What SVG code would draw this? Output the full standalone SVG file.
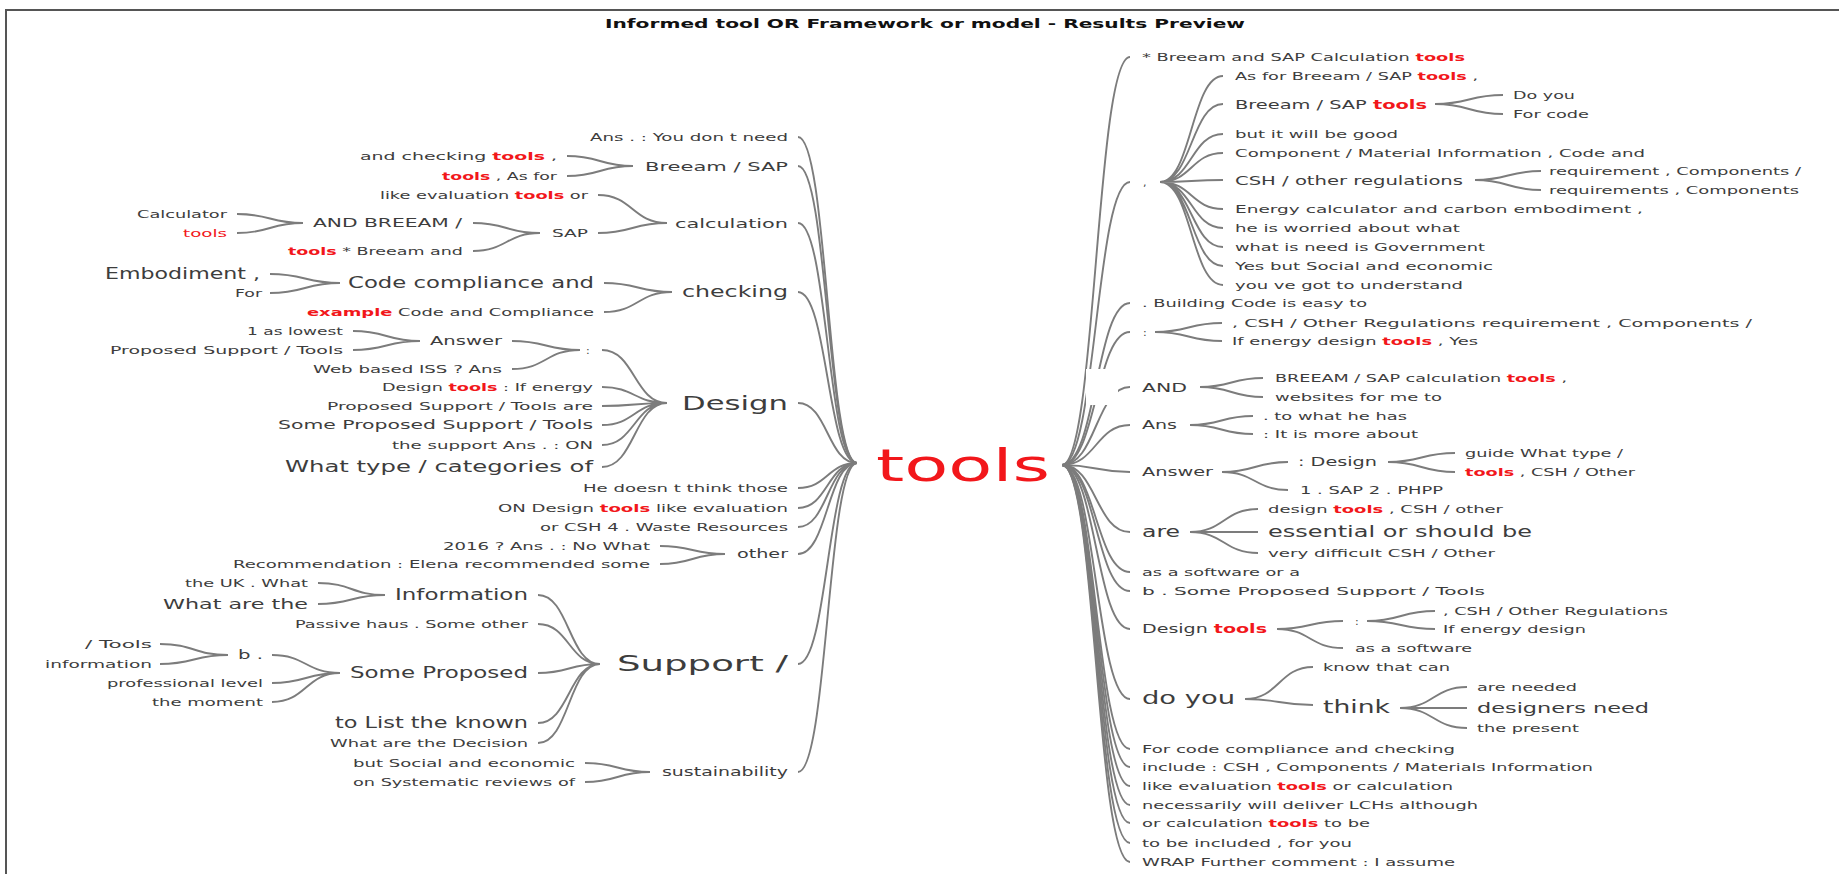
<svg xmlns="http://www.w3.org/2000/svg" width="1839" height="874" viewBox="0 0 1839 874">
<style>
.t{font-family:"DejaVu Sans","Liberation Sans",sans-serif;fill:#3d3d3d}
.f10{font-size:10px}.f11{font-size:11px}.f12{font-size:12px}.f13{font-size:13px}.f14{font-size:14px}.f15{font-size:15px}.f16{font-size:16px}.f17{font-size:17px}.f18{font-size:18px}.f19{font-size:19px}.f21{font-size:21px}
.r{fill:#f2171b;font-weight:bold}
.rn{fill:#f2171b}
.c{fill:none;stroke:#7c7c7c;stroke-width:1.9}
.title{font-family:"DejaVu Sans","Liberation Sans",sans-serif;font-weight:bold;font-size:13px;fill:#111}
</style>
<rect x="0" y="0" width="1839" height="874" fill="#fff"/>
<path d="M6,874 V10 H1839" fill="none" stroke="#555" stroke-width="2"/>
<text class="title" x="605" y="28" textLength="640" lengthAdjust="spacingAndGlyphs">Informed tool OR Framework or model - Results Preview</text>

<g id="connectors">
<path class="c" d="M798,137 C827.5,137 827.5,463 857,463"/>
<path class="c" d="M798,166 C827.5,166 827.5,463 857,463"/>
<path class="c" d="M798,223 C827.5,223 827.5,463 857,463"/>
<path class="c" d="M798,292 C827.5,292 827.5,463 857,463"/>
<path class="c" d="M798,403 C827.5,403 827.5,463 857,463"/>
<path class="c" d="M798,488 C827.5,488 827.5,463 857,463"/>
<path class="c" d="M798,508 C827.5,508 827.5,463 857,463"/>
<path class="c" d="M798,527 C827.5,527 827.5,463 857,463"/>
<path class="c" d="M798,554 C827.5,554 827.5,463 857,463"/>
<path class="c" d="M798,664 C827.5,664 827.5,463 857,463"/>
<path class="c" d="M798,772 C827.5,772 827.5,463 857,463"/>
<path class="c" d="M567,156 C600,156 600,166 633,166 M567,176 C600,176 600,166 633,166"/>
<path class="c" d="M598,195 C632.5,195 632.5,223 667,223 M598,233 C632.5,233 632.5,223 667,223"/>
<path class="c" d="M473,223 C506.5,223 506.5,233 540,233 M473,251 C506.5,251 506.5,233 540,233"/>
<path class="c" d="M237,214 C270,214 270,223 303,223 M237,233 C270,233 270,223 303,223"/>
<path class="c" d="M604,283 C638,283 638,292 672,292 M604,312 C638,312 638,292 672,292"/>
<path class="c" d="M270,274 C305,274 305,283 340,283 M270,293 C305,293 305,283 340,283"/>
<path class="c" d="M602,350 C634.5,350 634.5,403 667,403 M602,387 C634.5,387 634.5,403 667,403 M602,406 C634.5,406 634.5,403 667,403 M602,425 C634.5,425 634.5,403 667,403 M602,445 C634.5,445 634.5,403 667,403 M602,467 C634.5,467 634.5,403 667,403"/>
<path class="c" d="M512,341 C546,341 546,350 580,350 M512,369 C546,369 546,350 580,350"/>
<path class="c" d="M353,331 C386.5,331 386.5,341 420,341 M353,350 C386.5,350 386.5,341 420,341"/>
<path class="c" d="M660,546 C692.5,546 692.5,554 725,554 M660,564 C692.5,564 692.5,554 725,554"/>
<path class="c" d="M538,595 C569,595 569,664 600,664 M538,624 C569,624 569,664 600,664 M538,673 C569,673 569,664 600,664 M538,723 C569,723 569,664 600,664 M538,743 C569,743 569,664 600,664"/>
<path class="c" d="M318,583 C351.5,583 351.5,595 385,595 M318,604 C351.5,604 351.5,595 385,595"/>
<path class="c" d="M272,655 C306,655 306,673 340,673 M272,683 C306,683 306,673 340,673 M272,702 C306,702 306,673 340,673"/>
<path class="c" d="M160,644 C194,644 194,655 228,655 M160,664 C194,664 194,655 228,655"/>
<path class="c" d="M585,763 C617.5,763 617.5,772 650,772 M585,782 C617.5,782 617.5,772 650,772"/>
<path class="c" d="M1062,465 C1096,465 1096,57 1130,57"/>
<path class="c" d="M1062,465 C1096,465 1096,182 1130,182"/>
<path class="c" d="M1062,465 C1096,465 1096,303 1130,303"/>
<path class="c" d="M1062,465 C1096,465 1096,332 1130,332"/>
<path class="c" d="M1062,465 C1096,465 1096,387 1130,387"/>
<path class="c" d="M1062,465 C1096,465 1096,425 1130,425"/>
<path class="c" d="M1062,465 C1096,465 1096,472 1130,472"/>
<path class="c" d="M1062,465 C1096,465 1096,532 1130,532"/>
<path class="c" d="M1062,465 C1096,465 1096,572 1130,572"/>
<path class="c" d="M1062,465 C1096,465 1096,591 1130,591"/>
<path class="c" d="M1062,465 C1096,465 1096,629 1130,629"/>
<path class="c" d="M1062,465 C1096,465 1096,699 1130,699"/>
<path class="c" d="M1062,465 C1096,465 1096,749 1130,749"/>
<path class="c" d="M1062,465 C1096,465 1096,767 1130,767"/>
<path class="c" d="M1062,465 C1096,465 1096,786 1130,786"/>
<path class="c" d="M1062,465 C1096,465 1096,805 1130,805"/>
<path class="c" d="M1062,465 C1096,465 1096,823 1130,823"/>
<path class="c" d="M1062,465 C1096,465 1096,843 1130,843"/>
<path class="c" d="M1062,465 C1096,465 1096,862 1130,862"/>
<path class="c" d="M1160,182 C1191.5,182 1191.5,76 1223,76 M1160,182 C1191.5,182 1191.5,104 1223,104 M1160,182 C1191.5,182 1191.5,134 1223,134 M1160,182 C1191.5,182 1191.5,153 1223,153 M1160,182 C1191.5,182 1191.5,180 1223,180 M1160,182 C1191.5,182 1191.5,209 1223,209 M1160,182 C1191.5,182 1191.5,228 1223,228 M1160,182 C1191.5,182 1191.5,247 1223,247 M1160,182 C1191.5,182 1191.5,266 1223,266 M1160,182 C1191.5,182 1191.5,285 1223,285"/>
<path class="c" d="M1435,104 C1469,104 1469,95 1503,95 M1435,104 C1469,104 1469,114 1503,114"/>
<path class="c" d="M1475,180 C1508,180 1508,171 1541,171 M1475,180 C1508,180 1508,190 1541,190"/>
<path class="c" d="M1155,332 C1188.5,332 1188.5,323 1222,323 M1155,332 C1188.5,332 1188.5,341 1222,341"/>
<path class="c" d="M1200,387 C1231.5,387 1231.5,378 1263,378 M1200,387 C1231.5,387 1231.5,397 1263,397"/>
<path class="c" d="M1190,425 C1221.5,425 1221.5,416 1253,416 M1190,425 C1221.5,425 1221.5,434 1253,434"/>
<path class="c" d="M1222,472 C1255,472 1255,462 1288,462 M1222,472 C1255,472 1255,490 1288,490"/>
<path class="c" d="M1388,462 C1421.5,462 1421.5,453 1455,453 M1388,462 C1421.5,462 1421.5,472 1455,472"/>
<path class="c" d="M1190,532 C1224,532 1224,509 1258,509 M1190,532 C1224,532 1224,532 1258,532 M1190,532 C1224,532 1224,553 1258,553"/>
<path class="c" d="M1277,629 C1310,629 1310,621 1343,621 M1277,629 C1310,629 1310,648 1343,648"/>
<path class="c" d="M1367,621 C1401,621 1401,611 1435,611 M1367,621 C1401,621 1401,629 1435,629"/>
<path class="c" d="M1245,699 C1279,699 1279,667 1313,667 M1245,699 C1279,699 1279,705 1313,705"/>
<path class="c" d="M1400,708 C1433.5,708 1433.5,687 1467,687 M1400,708 C1433.5,708 1433.5,708 1467,708 M1400,708 C1433.5,708 1433.5,728 1467,728"/>
</g>
<rect x="1086" y="369" width="32" height="36" fill="#fff"/>

<g id="root"><text class="t rn" x="876" y="481" font-size="44" textLength="174" lengthAdjust="spacingAndGlyphs">tools</text></g>

<g id="l-ans"><text class="t f11" x="590" y="141" textLength="198" lengthAdjust="spacingAndGlyphs">Ans . : You don t need</text></g>
<g id="l-breeam"><text class="t f13" x="645" y="171" textLength="143" lengthAdjust="spacingAndGlyphs">Breeam / SAP</text></g>
<g id="l-breeam-1"><text class="t f11" x="360" y="160" textLength="197" lengthAdjust="spacingAndGlyphs">and checking <tspan class="r">tools</tspan> ,</text></g>
<g id="l-breeam-2"><text class="t f11" x="442" y="180" textLength="115" lengthAdjust="spacingAndGlyphs"><tspan class="r">tools</tspan> , As for</text></g>
<g id="l-calc"><text class="t f13" x="675" y="228" textLength="113" lengthAdjust="spacingAndGlyphs">calculation</text></g>
<g id="l-calc-1"><text class="t f11" x="380" y="199" textLength="208" lengthAdjust="spacingAndGlyphs">like evaluation <tspan class="r">tools</tspan> or</text></g>
<g id="l-sap"><text class="t f11" x="552" y="237" textLength="36" lengthAdjust="spacingAndGlyphs">SAP</text></g>
<g id="l-andbreeam"><text class="t f12" x="313" y="227" textLength="149" lengthAdjust="spacingAndGlyphs">AND BREEAM /</text></g>
<g id="l-calculator"><text class="t f11" x="137" y="218" textLength="90" lengthAdjust="spacingAndGlyphs">Calculator</text></g>
<g id="l-tools-red"><text class="t f11 rn" x="183" y="237" textLength="44" lengthAdjust="spacingAndGlyphs">tools</text></g>
<g id="l-sap-2"><text class="t f11" x="288" y="255" textLength="175" lengthAdjust="spacingAndGlyphs"><tspan class="r">tools</tspan> * Breeam and</text></g>
<g id="l-checking"><text class="t f15" x="682" y="297" textLength="106" lengthAdjust="spacingAndGlyphs">checking</text></g>
<g id="l-code"><text class="t f15" x="348" y="288" textLength="246" lengthAdjust="spacingAndGlyphs">Code compliance and</text></g>
<g id="l-embodiment"><text class="t f15" x="105" y="279" textLength="155" lengthAdjust="spacingAndGlyphs">Embodiment ,</text></g>
<g id="l-for"><text class="t f10" x="235" y="297" textLength="27" lengthAdjust="spacingAndGlyphs">For</text></g>
<g id="l-example"><text class="t f11" x="307" y="316" textLength="287" lengthAdjust="spacingAndGlyphs"><tspan class="r">example</tspan> Code and Compliance</text></g>
<g id="l-design"><text class="t f19" x="682" y="410" textLength="106" lengthAdjust="spacingAndGlyphs">Design</text></g>
<g id="l-colon"><text class="t f11" x="586" y="354">:</text></g>
<g id="l-answer"><text class="t f12" x="430" y="345" textLength="72" lengthAdjust="spacingAndGlyphs">Answer</text></g>
<g id="l-lowest"><text class="t f11" x="247" y="335" textLength="96" lengthAdjust="spacingAndGlyphs">1 as lowest</text></g>
<g id="l-proposed-a"><text class="t f11" x="110" y="354" textLength="233" lengthAdjust="spacingAndGlyphs">Proposed Support / Tools</text></g>
<g id="l-web"><text class="t f11" x="313" y="373" textLength="189" lengthAdjust="spacingAndGlyphs">Web based ISS ? Ans</text></g>
<g id="l-designtools"><text class="t f11" x="382" y="391" textLength="211" lengthAdjust="spacingAndGlyphs">Design <tspan class="r">tools</tspan> : If energy</text></g>
<g id="l-proposed-b"><text class="t f11" x="327" y="410" textLength="266" lengthAdjust="spacingAndGlyphs">Proposed Support / Tools are</text></g>
<g id="l-someproposed"><text class="t f12" x="278" y="429" textLength="315" lengthAdjust="spacingAndGlyphs">Some Proposed Support / Tools</text></g>
<g id="l-support-ans"><text class="t f11" x="392" y="449" textLength="201" lengthAdjust="spacingAndGlyphs">the support Ans . : ON</text></g>
<g id="l-whattype"><text class="t f15" x="285" y="472" textLength="308" lengthAdjust="spacingAndGlyphs">What type / categories of</text></g>
<g id="l-he"><text class="t f11" x="583" y="492" textLength="205" lengthAdjust="spacingAndGlyphs">He doesn t think those</text></g>
<g id="l-on"><text class="t f11" x="498" y="512" textLength="290" lengthAdjust="spacingAndGlyphs">ON Design <tspan class="r">tools</tspan> like evaluation</text></g>
<g id="l-csh4"><text class="t f11" x="540" y="531" textLength="248" lengthAdjust="spacingAndGlyphs">or CSH 4 . Waste Resources</text></g>
<g id="l-other"><text class="t f12" x="737" y="558" textLength="51" lengthAdjust="spacingAndGlyphs">other</text></g>
<g id="l-2016"><text class="t f11" x="443" y="550" textLength="207" lengthAdjust="spacingAndGlyphs">2016 ? Ans . : No What</text></g>
<g id="l-recommendation"><text class="t f11" x="233" y="568" textLength="417" lengthAdjust="spacingAndGlyphs">Recommendation : Elena recommended some</text></g>
<g id="l-support"><text class="t f21" x="617" y="671" textLength="171" lengthAdjust="spacingAndGlyphs">Support /</text></g>
<g id="l-information"><text class="t f15" x="395" y="600" textLength="133" lengthAdjust="spacingAndGlyphs">Information</text></g>
<g id="l-uk"><text class="t f11" x="185" y="587" textLength="123" lengthAdjust="spacingAndGlyphs">the UK . What</text></g>
<g id="l-whatare"><text class="t f14" x="163" y="609" textLength="145" lengthAdjust="spacingAndGlyphs">What are the</text></g>
<g id="l-passive"><text class="t f11" x="295" y="628" textLength="233" lengthAdjust="spacingAndGlyphs">Passive haus . Some other</text></g>
<g id="l-someprop"><text class="t f15" x="350" y="678" textLength="178" lengthAdjust="spacingAndGlyphs">Some Proposed</text></g>
<g id="l-b"><text class="t f12" x="238" y="659" textLength="25" lengthAdjust="spacingAndGlyphs">b .</text></g>
<g id="l-tools-slash"><text class="t f11" x="85" y="648" textLength="67" lengthAdjust="spacingAndGlyphs">/ Tools</text></g>
<g id="l-info-small"><text class="t f11" x="45" y="668" textLength="107" lengthAdjust="spacingAndGlyphs">information</text></g>
<g id="l-professional"><text class="t f11" x="107" y="687" textLength="156" lengthAdjust="spacingAndGlyphs">professional level</text></g>
<g id="l-moment"><text class="t f11" x="152" y="706" textLength="111" lengthAdjust="spacingAndGlyphs">the moment</text></g>
<g id="l-list"><text class="t f15" x="335" y="728" textLength="193" lengthAdjust="spacingAndGlyphs">to List the known</text></g>
<g id="l-decision"><text class="t f11" x="330" y="747" textLength="198" lengthAdjust="spacingAndGlyphs">What are the Decision</text></g>
<g id="l-sust"><text class="t f12" x="662" y="776" textLength="126" lengthAdjust="spacingAndGlyphs">sustainability</text></g>
<g id="l-social"><text class="t f11" x="353" y="767" textLength="222" lengthAdjust="spacingAndGlyphs">but Social and economic</text></g>
<g id="l-systematic"><text class="t f11" x="353" y="786" textLength="222" lengthAdjust="spacingAndGlyphs">on Systematic reviews of</text></g>

<g id="r-breeam-calc"><text class="t f11" x="1142" y="61" textLength="323" lengthAdjust="spacingAndGlyphs">* Breeam and SAP Calculation <tspan class="r">tools</tspan></text></g>
<g id="r-comma"><text class="t f11" x="1143" y="186">,</text></g>
<g id="r-asfor"><text class="t f11" x="1235" y="80" textLength="243" lengthAdjust="spacingAndGlyphs">As for Breeam / SAP <tspan class="r">tools</tspan> ,</text></g>
<g id="r-breeamsap"><text class="t f13" x="1235" y="109" textLength="192" lengthAdjust="spacingAndGlyphs">Breeam / SAP <tspan class="r">tools</tspan></text></g>
<g id="r-doyou-a"><text class="t f11" x="1513" y="99" textLength="62" lengthAdjust="spacingAndGlyphs">Do you</text></g>
<g id="r-forcode"><text class="t f11" x="1513" y="118" textLength="76" lengthAdjust="spacingAndGlyphs">For code</text></g>
<g id="r-good"><text class="t f11" x="1235" y="138" textLength="163" lengthAdjust="spacingAndGlyphs">but it will be good</text></g>
<g id="r-component"><text class="t f11" x="1235" y="157" textLength="410" lengthAdjust="spacingAndGlyphs">Component / Material Information , Code and</text></g>
<g id="r-cshreg"><text class="t f13" x="1235" y="185" textLength="228" lengthAdjust="spacingAndGlyphs">CSH / other regulations</text></g>
<g id="r-req1"><text class="t f11" x="1549" y="175" textLength="252" lengthAdjust="spacingAndGlyphs">requirement , Components /</text></g>
<g id="r-req2"><text class="t f11" x="1549" y="194" textLength="250" lengthAdjust="spacingAndGlyphs">requirements , Components</text></g>
<g id="r-energy"><text class="t f11" x="1235" y="213" textLength="408" lengthAdjust="spacingAndGlyphs">Energy calculator and carbon embodiment ,</text></g>
<g id="r-worried"><text class="t f11" x="1235" y="232" textLength="225" lengthAdjust="spacingAndGlyphs">he is worried about what</text></g>
<g id="r-government"><text class="t f11" x="1235" y="251" textLength="250" lengthAdjust="spacingAndGlyphs">what is need is Government</text></g>
<g id="r-yes"><text class="t f11" x="1235" y="270" textLength="258" lengthAdjust="spacingAndGlyphs">Yes but Social and economic</text></g>
<g id="r-understand"><text class="t f11" x="1235" y="289" textLength="228" lengthAdjust="spacingAndGlyphs">you ve got to understand</text></g>
<g id="r-building"><text class="t f11" x="1142" y="307" textLength="225" lengthAdjust="spacingAndGlyphs">. Building Code is easy to</text></g>
<g id="r-colon"><text class="t f11" x="1143" y="336">:</text></g>
<g id="r-cshother"><text class="t f11" x="1232" y="327" textLength="520" lengthAdjust="spacingAndGlyphs">, CSH / Other Regulations requirement , Components /</text></g>
<g id="r-ifenergy"><text class="t f11" x="1232" y="345" textLength="246" lengthAdjust="spacingAndGlyphs">If energy design <tspan class="r">tools</tspan> , Yes</text></g>
<g id="r-and"><text class="t f13" x="1142" y="392" textLength="45" lengthAdjust="spacingAndGlyphs">AND</text></g>
<g id="r-breeamcalc"><text class="t f11" x="1275" y="382" textLength="292" lengthAdjust="spacingAndGlyphs">BREEAM / SAP calculation <tspan class="r">tools</tspan> ,</text></g>
<g id="r-websites"><text class="t f11" x="1275" y="401" textLength="167" lengthAdjust="spacingAndGlyphs">websites for me to</text></g>
<g id="r-ans"><text class="t f12" x="1142" y="429" textLength="35" lengthAdjust="spacingAndGlyphs">Ans</text></g>
<g id="r-towhat"><text class="t f11" x="1263" y="420" textLength="144" lengthAdjust="spacingAndGlyphs">. to what he has</text></g>
<g id="r-itis"><text class="t f11" x="1263" y="438" textLength="155" lengthAdjust="spacingAndGlyphs">: It is more about</text></g>
<g id="r-answer"><text class="t f12" x="1142" y="476" textLength="71" lengthAdjust="spacingAndGlyphs">Answer</text></g>
<g id="r-design-colon"><text class="t f12" x="1298" y="466" textLength="79" lengthAdjust="spacingAndGlyphs">: Design</text></g>
<g id="r-sap2"><text class="t f11" x="1300" y="494" textLength="143" lengthAdjust="spacingAndGlyphs">1 . SAP 2 . PHPP</text></g>
<g id="r-guide"><text class="t f11" x="1465" y="457" textLength="158" lengthAdjust="spacingAndGlyphs">guide What type /</text></g>
<g id="r-toolscsh"><text class="t f11" x="1465" y="476" textLength="170" lengthAdjust="spacingAndGlyphs"><tspan class="r">tools</tspan> , CSH / Other</text></g>
<g id="r-are"><text class="t f16" x="1142" y="537" textLength="38" lengthAdjust="spacingAndGlyphs">are</text></g>
<g id="r-designtools-csh"><text class="t f11" x="1268" y="513" textLength="235" lengthAdjust="spacingAndGlyphs">design <tspan class="r">tools</tspan> , CSH / other</text></g>
<g id="r-essential"><text class="t f15" x="1268" y="537" textLength="264" lengthAdjust="spacingAndGlyphs">essential or should be</text></g>
<g id="r-difficult"><text class="t f11" x="1268" y="557" textLength="227" lengthAdjust="spacingAndGlyphs">very difficult CSH / Other</text></g>
<g id="r-software-or"><text class="t f11" x="1142" y="576" textLength="158" lengthAdjust="spacingAndGlyphs">as a software or a</text></g>
<g id="r-bsome"><text class="t f11" x="1142" y="595" textLength="343" lengthAdjust="spacingAndGlyphs">b . Some Proposed Support / Tools</text></g>
<g id="r-designtools"><text class="t f12" x="1142" y="633" textLength="125" lengthAdjust="spacingAndGlyphs">Design <tspan class="r">tools</tspan></text></g>
<g id="r-colon2"><text class="t f11" x="1355" y="625">:</text></g>
<g id="r-software"><text class="t f11" x="1355" y="652" textLength="117" lengthAdjust="spacingAndGlyphs">as a software</text></g>
<g id="r-cshregs"><text class="t f11" x="1443" y="615" textLength="225" lengthAdjust="spacingAndGlyphs">, CSH / Other Regulations</text></g>
<g id="r-ifenergy2"><text class="t f11" x="1443" y="633" textLength="143" lengthAdjust="spacingAndGlyphs">If energy design</text></g>
<g id="r-doyou"><text class="t f18" x="1142" y="704" textLength="93" lengthAdjust="spacingAndGlyphs">do you</text></g>
<g id="r-know"><text class="t f11" x="1323" y="671" textLength="127" lengthAdjust="spacingAndGlyphs">know that can</text></g>
<g id="r-think"><text class="t f17" x="1323" y="713" textLength="67" lengthAdjust="spacingAndGlyphs">think</text></g>
<g id="r-needed"><text class="t f11" x="1477" y="691" textLength="100" lengthAdjust="spacingAndGlyphs">are needed</text></g>
<g id="r-designers"><text class="t f14" x="1477" y="713" textLength="172" lengthAdjust="spacingAndGlyphs">designers need</text></g>
<g id="r-present"><text class="t f11" x="1477" y="732" textLength="102" lengthAdjust="spacingAndGlyphs">the present</text></g>
<g id="r-forcode2"><text class="t f11" x="1142" y="753" textLength="313" lengthAdjust="spacingAndGlyphs">For code compliance and checking</text></g>
<g id="r-include"><text class="t f11" x="1142" y="771" textLength="451" lengthAdjust="spacingAndGlyphs">include : CSH , Components / Materials Information</text></g>
<g id="r-likeeval"><text class="t f11" x="1142" y="790" textLength="311" lengthAdjust="spacingAndGlyphs">like evaluation <tspan class="r">tools</tspan> or calculation</text></g>
<g id="r-necessarily"><text class="t f11" x="1142" y="809" textLength="336" lengthAdjust="spacingAndGlyphs">necessarily will deliver LCHs although</text></g>
<g id="r-orcalc"><text class="t f11" x="1142" y="827" textLength="228" lengthAdjust="spacingAndGlyphs">or calculation <tspan class="r">tools</tspan> to be</text></g>
<g id="r-included"><text class="t f11" x="1142" y="847" textLength="210" lengthAdjust="spacingAndGlyphs">to be included , for you</text></g>
<g id="r-wrap"><text class="t f11" x="1142" y="866" textLength="313" lengthAdjust="spacingAndGlyphs">WRAP Further comment : I assume</text></g>
</svg>
